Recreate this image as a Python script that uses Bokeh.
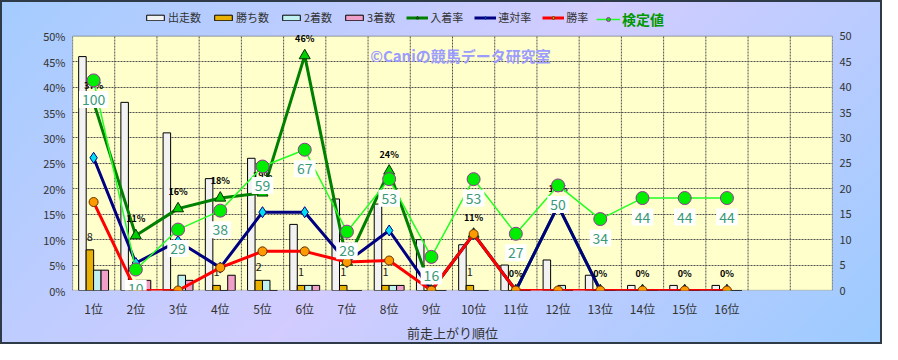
from bokeh.plotting import figure
from bokeh.models import (ColumnDataSource, Range1d, LinearAxis, FixedTicker,
                          Legend, LegendItem, Label, BoxAnnotation)
from bokeh.transform import dodge
from bokeh.core.properties import value
from bokeh.embed import file_html
from bokeh.resources import INLINE

# ---------------- data ----------------
positions = list(range(1, 17))
tick_labels = [f"{i}位" for i in positions]
n_slots = 18  # 16 labelled slots + 2 empty ones on the category axis

starts = [46, 37, 31, 22, 26, 13, 18, 17, 10, 9, 5, 6, 3, 1, 1, 1]
wins = [8, 0, 0, 1, 2, 1, 1, 1, 0, 1, 0, 0, 0, 0, 0, 0]
seconds = [4, 2, 3, 0, 2, 1, 0, 1, 0, 0, 0, 1, 0, 0, 0, 0]
thirds = [4, 2, 2, 3, 0, 1, 0, 1, 0, 0, 0, 0, 0, 0, 0, 0]

place_rate = [37.0, 10.8, 16.1, 18.2, 19.2, 46.2, 5.6, 23.5, 0, 11.1, 0, 16.7, 0, 0, 0, 0]
rentai_rate = [26.1, 5.4, 9.7, 4.5, 15.4, 15.4, 5.6, 11.8, 0, 11.1, 0, 16.7, 0, 0, 0, 0]
win_rate = [17.4, 0, 0, 4.5, 7.7, 7.7, 5.6, 5.9, 0, 11.1, 0, 0, 0, 0, 0, 0]
kentei = [100, 10, 29, 38, 59, 67, 28, 53, 16, 53, 27, 50, 34, 44, 44, 44]

axis_max = 50
pct_ticks = list(range(0, axis_max + 1, 5))
count_ticks = list(range(0, axis_max + 1, 5))
kentei_scale_max = 121

FONT = "Noto Sans CJK JP"

# layout: the frame also covers the legend band above the plot area
FRAME_H, PLOT_H = 292, 256
stretch = FRAME_H / PLOT_H

src = ColumnDataSource(dict(
    x=positions, starts=starts, wins=wins, seconds=seconds, thirds=thirds,
    place=place_rate, rentai=rentai_rate, winrate=win_rate, kentei=kentei,
    win_lbl=[str(w) if w else "" for w in wins],
    place_lbl=[f"{round(v)}%" for v in place_rate],
    kentei_lbl=[str(k) for k in kentei],
))
bounds = [i + 0.5 for i in range(n_slots + 1)]
grid_src = ColumnDataSource(dict(x=bounds, y0=[0] * len(bounds), y1=[axis_max] * len(bounds)))

p = figure(width=882, height=344,
           x_range=Range1d(0.5, n_slots + 0.5), y_range=Range1d(0, axis_max * stretch),
           output_backend="svg", toolbar_location=None,
           min_border_left=72, min_border_right=50,
           min_border_top=0, min_border_bottom=52,
           background_fill_color=None, border_fill_color=None,
           outline_line_color=None)
p.styles = {
    "background": "linear-gradient(135deg, #A4CCFF 0%, #D2CCFF 50%, #9CCBFF 100%)",
    "outline": "2px solid #2E3A48",
    "outline-offset": "-2px",
}
p.extra_y_ranges = {"count": Range1d(0, axis_max * stretch),
                    "kentei": Range1d(0, kentei_scale_max * stretch)}

# plot area (yellow) with its frame
p.add_layout(BoxAnnotation(bottom=0, top=axis_max, fill_color="#FFFFCC", fill_alpha=1,
                           line_color="#404040", line_width=1.5, level="image"))

# axes
p.xaxis.ticker = FixedTicker(ticks=positions)
p.xaxis.major_label_overrides = {i: t for i, t in zip(positions, tick_labels)}
p.xaxis.axis_label = "前走上がり順位"
p.yaxis.ticker = FixedTicker(ticks=pct_ticks)
p.yaxis.major_label_overrides = {t: f"{t}%" for t in pct_ticks}
right = LinearAxis(y_range_name="count", ticker=FixedTicker(ticks=count_ticks))
p.add_layout(right, "right")

for ax in [p.xaxis[0], p.yaxis[0], right]:
    ax.axis_line_color = None
    ax.major_tick_line_color = None
    ax.minor_tick_line_color = None
    ax.major_tick_out = 0
    ax.major_tick_in = 0
    ax.minor_tick_out = 0
    ax.minor_tick_in = 0
    ax.major_label_text_font = FONT
    ax.major_label_text_color = "#333333"
    ax.major_label_text_font_size = "11px"
    ax.major_label_standoff = 7
p.xaxis.major_label_text_font_size = "12px"
p.xaxis.major_label_standoff = 9
p.xaxis.axis_label_text_font = FONT
p.xaxis.axis_label_text_font_style = "normal"
p.xaxis.axis_label_text_font_size = "13px"
p.xaxis.axis_label_text_color = "#333333"
p.xaxis.axis_label_standoff = 3

p.xgrid.visible = False
p.ygrid.ticker = FixedTicker(ticks=pct_ticks[1:-1])
p.ygrid.grid_line_color = "#505050"
p.ygrid.grid_line_dash = "2 1"
p.ygrid.grid_line_width = 1
p.segment(x0="x", x1="x", y0="y0", y1="y1", source=grid_src, line_color="#505050",
          line_dash="2 1", line_width=1, level="underlay")

# bars
bw = 0.178
r_starts = p.vbar(x=dodge("x", -0.265, range=p.x_range), top="starts", width=bw, source=src,
                  y_range_name="count", fill_color="#F2F2F2", line_color="black", line_width=1)
r_wins = p.vbar(x=dodge("x", -0.088, range=p.x_range), top="wins", width=bw, source=src,
                y_range_name="count", fill_color="#E8B000", line_color="black", line_width=1)
r_sec = p.vbar(x=dodge("x", 0.088, range=p.x_range), top="seconds", width=bw, source=src,
               y_range_name="count", fill_color="#C0F0F0", line_color="black", line_width=1)
r_thr = p.vbar(x=dodge("x", 0.265, range=p.x_range), top="thirds", width=bw, source=src,
               y_range_name="count", fill_color="#F0A0C8", line_color="black", line_width=1)

p.text(x=dodge("x", -0.088, range=p.x_range), y="wins", text="win_lbl", source=src,
       y_range_name="count", y_offset=-13, text_align="center", text_baseline="middle",
       text_font=value(FONT), text_font_size="11px", text_color="#222222")

# lines
l_place = p.line("x", "place", source=src, line_color="#008000", line_width=3)
m_place = p.scatter("x", "place", source=src, marker="triangle", size=11,
                    fill_color="#00D000", line_color="#003300", line_width=1)
l_ren = p.line("x", "rentai", source=src, line_color="#000080", line_width=3)
m_ren = p.scatter("x", "rentai", source=src, marker="diamond", size=11,
                  fill_color="#00E0F0", line_color="#000080", line_width=1)
l_win = p.line("x", "winrate", source=src, line_color="#FF0000", line_width=3)
m_win = p.scatter("x", "winrate", source=src, marker="circle", size=9,
                  fill_color="#FF9900", line_color="#663300", line_width=1)

p.text(x="x", y="place", text="place_lbl", source=src, y_offset=-17,
       text_align="center", text_baseline="middle", text_font=value(FONT),
       text_font_size="9px", text_font_style="bold", text_color="black")

l_ken = p.line("x", "kentei", source=src, y_range_name="kentei",
               line_color="#22FF22", line_width=1.5)
m_ken = p.scatter("x", "kentei", source=src, y_range_name="kentei", marker="circle",
                  size=13, fill_color="#00EE00", line_color="#993399", line_width=1)
p.text(x="x", y="kentei", text="kentei_lbl", source=src, y_range_name="kentei",
       y_offset=19, text_align="center", text_baseline="middle", text_font=value(FONT),
       text_font_size="14px", text_color="#3A9A78",
       background_fill_color="white", padding=3)

# watermark
p.add_layout(Label(x=7.55, y=46.2, text="©Caniの競馬データ研究室", text_color="#9C9CFF",
                   text_font=FONT, text_font_size="15px", text_font_style="bold",
                   text_baseline="middle"))

# legends
leg = Legend(items=[
    LegendItem(label="出走数", renderers=[r_starts]),
    LegendItem(label="勝ち数", renderers=[r_wins]),
    LegendItem(label="2着数", renderers=[r_sec]),
    LegendItem(label="3着数", renderers=[r_thr]),
    LegendItem(label="入着率", renderers=[l_place, m_place]),
    LegendItem(label="連対率", renderers=[l_ren, m_ren]),
    LegendItem(label="勝率", renderers=[l_win, m_win]),
], orientation="horizontal", location=(72, 265), background_fill_alpha=0,
    border_line_color=None, glyph_width=22, glyph_height=7, label_height=14,
    label_text_font=FONT, label_text_font_size="11px", label_text_color="#333333",
    label_standoff=2, spacing=11, padding=0, margin=0)
leg2 = Legend(items=[LegendItem(label="検定値", renderers=[l_ken, m_ken])],
              orientation="horizontal", location=(524, 261), background_fill_alpha=0,
              border_line_color=None, glyph_width=24, glyph_height=10, label_height=18,
              label_text_font=FONT, label_text_font_size="14px", label_text_font_style="bold",
              label_text_color="#009900", label_standoff=2, padding=0, margin=0)
p.add_layout(leg)
p.add_layout(leg2)

open("out.html", "w").write(file_html(p, INLINE))
